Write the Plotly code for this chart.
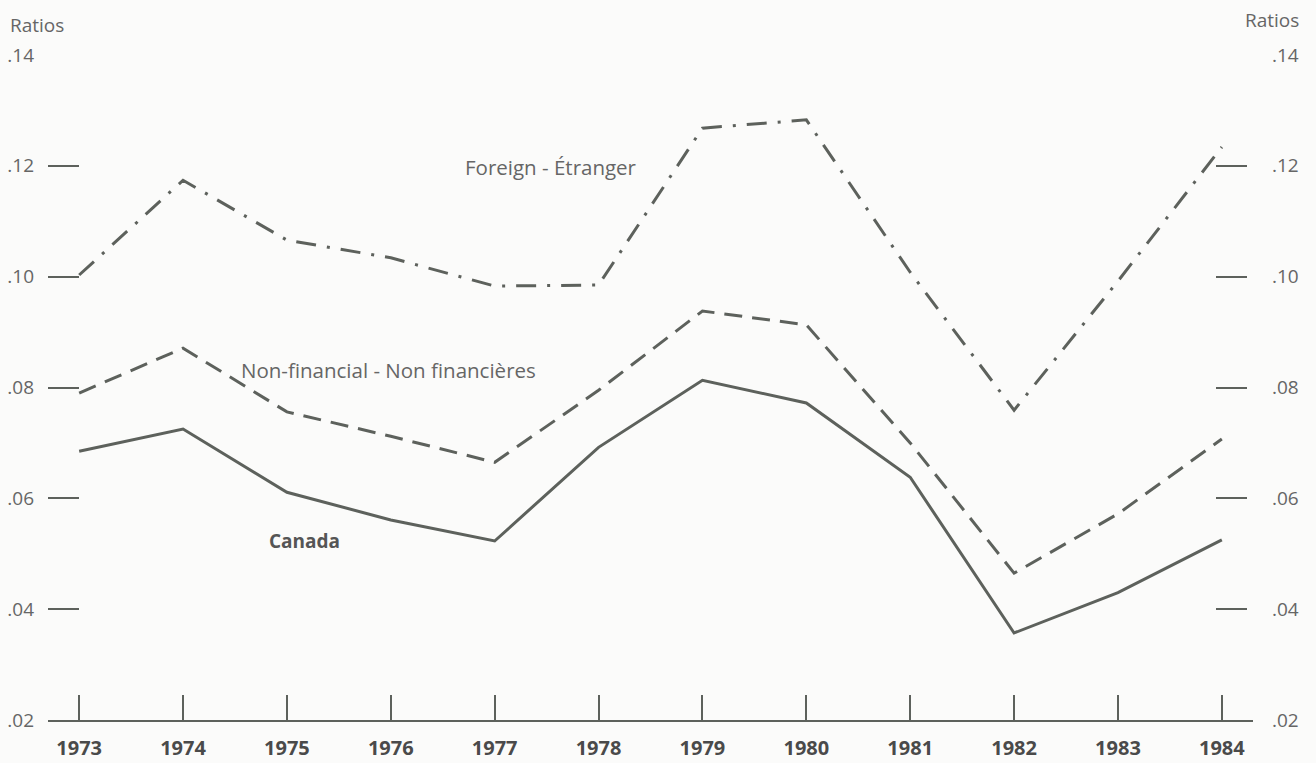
import plotly.graph_objects as go

years = list(range(1973, 1985))
canada = [0.0685, 0.0725, 0.0611, 0.0561, 0.0523, 0.0692, 0.0813, 0.0772, 0.0638, 0.0357, 0.0430, 0.0525]
non_financial = [0.0790, 0.0871, 0.0756, 0.0712, 0.0665, 0.0795, 0.0938, 0.0913, 0.0700, 0.0465, 0.0572, 0.0707]
foreign = [0.1003, 0.1174, 0.1066, 0.1034, 0.0983, 0.0985, 0.1268, 0.1283, 0.1008, 0.0759, 0.0992, 0.1234]

y_ticks = [0.02, 0.04, 0.06, 0.08, 0.10, 0.12, 0.14]
y_tick_text = [".02", ".04", ".06", ".08", ".10", ".12", ".14"]

LINE = "#5d615c"
TEXT = "#666666"
FONT = "Open Sans"

fig = go.Figure()
fig.add_trace(go.Scatter(x=years, y=foreign, mode="lines",
                         line=dict(color=LINE, width=3, dash="20px,11px,3px,11px"),
                         showlegend=False, hoverinfo="skip"))
fig.add_trace(go.Scatter(x=years, y=non_financial, mode="lines",
                         line=dict(color=LINE, width=3, dash="18px,10px"),
                         showlegend=False, hoverinfo="skip"))
fig.add_trace(go.Scatter(x=years, y=canada, mode="lines",
                         line=dict(color=LINE, width=3),
                         showlegend=False, hoverinfo="skip"))
# invisible trace for right axis
fig.add_trace(go.Scatter(x=[years[0]], y=[canada[0]], yaxis="y2", mode="lines",
                         line=dict(width=0), showlegend=False, hoverinfo="skip"))

fig.update_layout(
    width=1316, height=763,
    margin=dict(l=48, r=63, t=55, b=43),
    paper_bgcolor="#fbfbfa", plot_bgcolor="#fbfbfa",
    font=dict(family=FONT, size=20, color=TEXT),
    xaxis=dict(range=[1972.7, 1984.3], tickmode="array", tickvals=years,
               ticktext=[f"<b>{y}</b>" for y in years],
               ticks="inside", ticklen=25, tickwidth=2, tickcolor=LINE,
               showline=True, linecolor=LINE, linewidth=2,
               showgrid=False, zeroline=False, automargin=False,
               tickfont=dict(family=FONT, size=20, color="#4a4a4a"),
               ticklabelstandoff=9),
    yaxis=dict(range=[0.02, 0.14], tickmode="array", tickvals=y_ticks, ticktext=y_tick_text,
               ticks="inside", ticklen=31, tickwidth=2, tickcolor=LINE,
               showline=False, showgrid=False, zeroline=False, automargin=False,
               tickfont=dict(family=FONT, size=19, color=TEXT),
               ticklabelstandoff=13),
    yaxis2=dict(range=[0.02, 0.14], tickmode="array", tickvals=y_ticks, ticktext=y_tick_text,
                overlaying="y", side="right", anchor="free", position=0.995,
                ticks="inside", ticklen=31, tickwidth=2, tickcolor=LINE,
                showline=False, showgrid=False, zeroline=False, automargin=False,
                tickfont=dict(family=FONT, size=19, color=TEXT),
                ticklabelstandoff=24),
    annotations=[
        dict(text="Ratios", xref="paper", yref="paper", x=-0.033, y=1.045, xanchor="left",
             yanchor="middle", showarrow=False, font=dict(family=FONT, size=19, color=TEXT)),
        dict(text="Ratios", xref="paper", yref="paper", x=1.04, y=1.052, xanchor="right",
             yanchor="middle", showarrow=False, font=dict(family=FONT, size=19, color=TEXT)),
        dict(text="Foreign - Étranger", x=1977.54, y=0.1198, xanchor="center", yanchor="middle",
             showarrow=False, font=dict(family=FONT, size=20.5, color=TEXT)),
        dict(text="Non-financial - Non financières", x=1975.98, y=0.0831, xanchor="center",
             yanchor="middle", showarrow=False, font=dict(family=FONT, size=20.5, color=TEXT)),
        dict(text="<b>Canada</b>", x=1975.17, y=0.0523, xanchor="center", yanchor="middle",
             showarrow=False, font=dict(family=FONT, size=19, color="#555555")),
    ],
)

fig.write_html("out.html", config={"displayModeBar": False},
               post_script="document.body.style.margin='0';")
